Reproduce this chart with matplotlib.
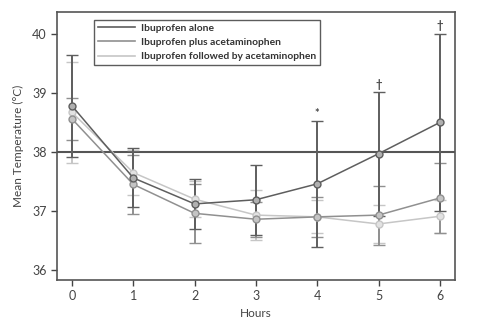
import matplotlib
matplotlib.use("Agg")
import matplotlib.pyplot as plt

hours = [0, 1, 2, 3, 4, 5, 6]
ibu_alone = [38.78, 37.56, 37.12, 37.19, 37.46, 37.97, 38.50]
ibu_alone_err = [0.86, 0.50, 0.42, 0.59, 1.07, 1.05, 1.50]
ibu_plus = [38.56, 37.45, 36.96, 36.86, 36.90, 36.93, 37.22]
ibu_plus_err = [0.36, 0.50, 0.50, 0.30, 0.34, 0.50, 0.60]
ibu_followed = [38.67, 37.65, 37.20, 36.93, 36.90, 36.78, 36.91]
ibu_followed_err = [0.85, 0.38, 0.30, 0.43, 0.28, 0.32, 0.28]
labels = ["Ibuprofen alone", "Ibuprofen plus acetaminophen", "Ibuprofen followed by acetaminophen"]
annot_x = [4, 5, 6]
annot_y = [38.65, 39.15, 40.15]
annot_txt = ["*", "\u2020", "\u2020"]

plt.rcParams['font.family'] = ['Lato', 'DejaVu Sans']

fig = plt.figure(figsize=(4.93, 3.26), dpi=100)
ax = fig.add_axes([0.1156, 0.141, 0.807, 0.822])

series = [
    (ibu_alone, ibu_alone_err, "#5e5e5e", "#b0b0b0"),
    (ibu_plus, ibu_plus_err, "#909090", "#c4c4c4"),
    (ibu_followed, ibu_followed_err, "#c6c6c6", "#e2e2e2"),
]
handles = []
for (vals, err, col, face), lab in zip(series[::-1], labels[::-1]):
    ax.errorbar(hours, vals, yerr=err, color=col, lw=1.1, elinewidth=1.4,
                capsize=4, capthick=1.2, marker='o', ms=5,
                mfc=face, mec=col, mew=1.0, label=lab)
for (vals, err, col, face), lab in zip(series, labels):
    h, = ax.plot([], [], color=col, lw=1.2, label=lab)
    handles.append(h)

ax.axhline(38, color="#555555", lw=1.5, zorder=1)

for x, y, t in zip(annot_x, annot_y, annot_txt):
    ax.text(x, y, t, ha='center', va='center', fontsize=8, color="#444444", fontweight='bold')

ax.set_xlim(-0.245, 6.245)
ax.set_ylim(35.83, 40.37)
ax.set_xticks(hours)
ax.set_yticks([36, 37, 38, 39, 40])
ax.tick_params(labelsize=9, colors="#444444", length=4, width=1)
for s in ax.spines.values():
    s.set_color("#555555")
    s.set_linewidth(1.2)
ax.set_xlabel("Hours", fontsize=8.5, color="#444444", labelpad=4)
ax.set_ylabel("Mean Temperature (\u00b0C)", fontsize=8.5, color="#444444", labelpad=6)

leg = ax.legend(handles=handles, labels=labels, loc='upper left',
                bbox_to_anchor=(0.08, 0.99), frameon=True,
                fancybox=False, edgecolor="#333333", handlelength=3.6,
                borderpad=0.35, labelspacing=0.5, handletextpad=0.6,
                prop={'weight': 'bold', 'size': 7.4})
leg.get_frame().set_linewidth(1.0)
for t in leg.get_texts():
    t.set_color("#333333")

fig.savefig("out.png", dpi=100)
